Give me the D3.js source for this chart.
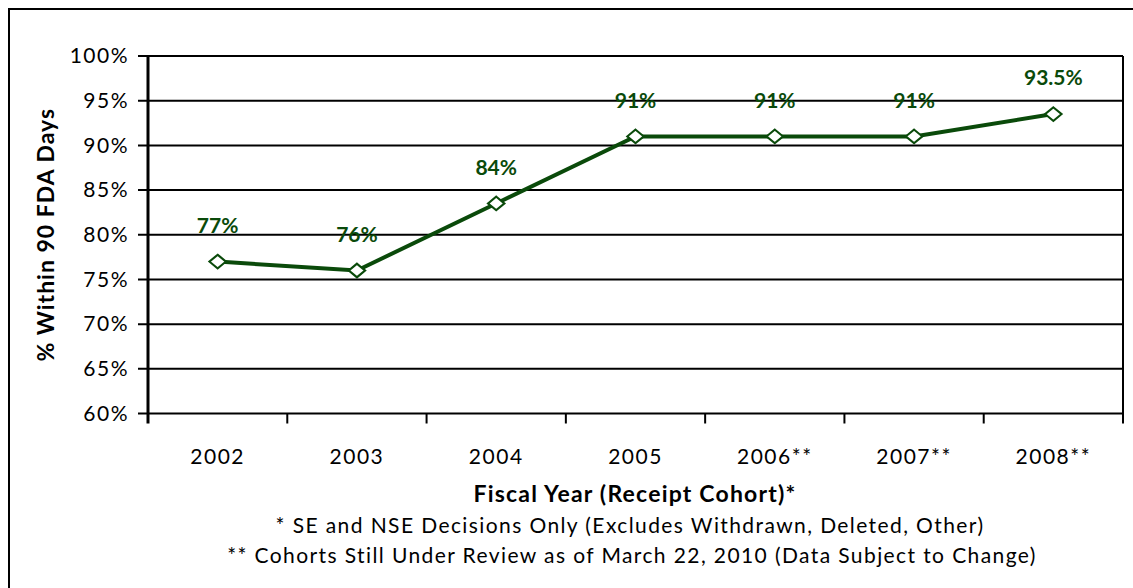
<!DOCTYPE html>
<html>
<head>
<meta charset="utf-8">
<script src="https://cdn.jsdelivr.net/npm/d3@7"></script>
<style>
  body { margin: 0; background: #fff; }
  text { font-family: Lato, "Open Sans", sans-serif; }
</style>
</head>
<body>
<div id="chart"></div>
<script>
// chart data
const years = ['2002', '2003', '2004', '2005', '2006**', '2007**', '2008**']
const values = [77, 76, 83.5, 91, 91, 91, 93.5]
const labels = ['77%', '76%', '84%', '91%', '91%', '91%', '93.5%']
const yTicks = [60, 65, 70, 75, 80, 85, 90, 95, 100]

var width = 1133,
    height = 588
var margin = {left: 148, right: 10, top: 56, bottom: 174.5}

const green = '#0a4a0a'

var svg = d3.select('#chart')
  .append('svg')
    .attr('width', width)
    .attr('height', height)

// outer frame (cropped at right and bottom like the picture)
svg.append('rect')
  .attr('x', 9).attr('y', 9)
  .attr('width', width + 20).attr('height', height + 20)
  .attr('fill', 'none')
  .attr('stroke', '#000')
  .attr('stroke-width', 2)

var x = d3.scaleBand()
  .domain(years)
  .range([margin.left, width - margin.right])

var y = d3.scaleLinear()
  .domain([60, 100])
  .range([height - margin.bottom, margin.top])

// horizontal grid lines
svg.append('g')
  .selectAll('line')
  .data(yTicks)
  .enter()
  .append('line')
  .attr('x1', margin.left - 10)
  .attr('x2', width - margin.right)
  .attr('y1', d => y(d))
  .attr('y2', d => y(d))
  .attr('stroke', '#000')
  .attr('stroke-width', 2)

// right border of plot area
svg.append('line')
  .attr('x1', width - margin.right).attr('x2', width - margin.right)
  .attr('y1', y(100)).attr('y2', y(60) + 10)
  .attr('stroke', '#000')
  .attr('stroke-width', 2)

// y axis line
svg.append('line')
  .attr('x1', margin.left).attr('x2', margin.left)
  .attr('y1', y(100)).attr('y2', y(60) + 10)
  .attr('stroke', '#000')
  .attr('stroke-width', 3)

// x ticks between categories
var xTickPos = years.map(d => x(d)).concat([x.range()[1]])
svg.append('g')
  .selectAll('line')
  .data(xTickPos.slice(1, -1))
  .enter()
  .append('line')
  .attr('x1', d => d).attr('x2', d => d)
  .attr('y1', y(60)).attr('y2', y(60) + 10)
  .attr('stroke', '#000')
  .attr('stroke-width', 2)

// y tick labels
svg.append('g')
  .selectAll('text')
  .data(yTicks)
  .enter()
  .append('text')
  .attr('x', margin.left - 19)
  .attr('y', d => y(d))
  .attr('dy', '0.35em')
  .attr('text-anchor', 'end')
  .attr('font-size', 21)
  .attr('letter-spacing', 1.5)
  .attr('fill', '#000')
  .text(d => d + '%')

// x tick labels
svg.append('g')
  .selectAll('text')
  .data(years)
  .enter()
  .append('text')
  .attr('x', d => x(d) + x.bandwidth() / 2)
  .attr('y', 457)
  .attr('dy', '0.35em')
  .attr('text-anchor', 'middle')
  .attr('font-size', 21)
  .attr('letter-spacing', 1.5)
  .attr('fill', '#000')
  .text(d => d)

// line
var line = d3.line()
  .x((d, i) => x(years[i]) + x.bandwidth() / 2)
  .y(d => y(d))

svg.append('path')
  .datum(values)
  .attr('d', line)
  .attr('fill', 'none')
  .attr('stroke', green)
  .attr('stroke-width', 4)

// diamond markers (a bit wider than tall, like Excel's)
svg.append('g')
  .selectAll('path')
  .data(values)
  .enter()
  .append('path')
  .attr('d', d3.symbol().type(d3.symbolDiamond2).size(130))
  .attr('transform', (d, i) => 'translate(' + (x(years[i]) + x.bandwidth() / 2) + ',' + y(d) + ') scale(1.15,0.95)')
  .attr('fill', '#fff')
  .attr('stroke', green)
  .attr('stroke-width', 2)

// value labels
svg.append('g')
  .selectAll('text')
  .data(values)
  .enter()
  .append('text')
  .attr('x', (d, i) => x(years[i]) + x.bandwidth() / 2)
  .attr('y', d => y(d) - 36)
  .attr('dy', '0.35em')
  .attr('text-anchor', 'middle')
  .attr('font-size', 21)
  .attr('font-weight', 'bold')
  .attr('fill', green)
  .text((d, i) => labels[i])

// axis titles
svg.append('text')
  .attr('transform', 'translate(46,' + (y(80)) + ') rotate(-90)')
  .attr('dy', '0.35em')
  .attr('text-anchor', 'middle')
  .attr('font-size', 23)
  .attr('font-weight', 'bold')
  .attr('letter-spacing', 1)
  .text('% Within 90 FDA Days')

svg.append('text')
  .attr('x', 635)
  .attr('y', 494)
  .attr('dy', '0.35em')
  .attr('text-anchor', 'middle')
  .attr('font-size', 23)
  .attr('font-weight', 'bold')
  .attr('letter-spacing', 1.2)
  .text('Fiscal Year (Receipt Cohort)*')

svg.append('text')
  .attr('x', 630)
  .attr('y', 526)
  .attr('dy', '0.35em')
  .attr('text-anchor', 'middle')
  .attr('font-size', 21)
  .attr('letter-spacing', 1.4)
  .text('* SE and NSE Decisions Only (Excludes Withdrawn, Deleted, Other)')

svg.append('text')
  .attr('x', 632)
  .attr('y', 556)
  .attr('dy', '0.35em')
  .attr('text-anchor', 'middle')
  .attr('font-size', 21)
  .attr('letter-spacing', 1.4)
  .text('** Cohorts Still Under Review as of March 22, 2010 (Data Subject to Change)')
</script>
</body>
</html>
